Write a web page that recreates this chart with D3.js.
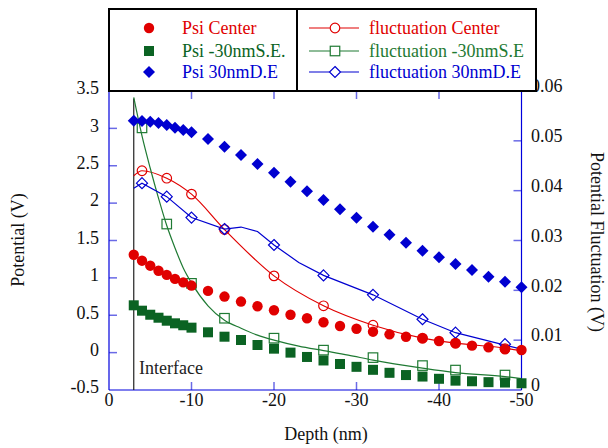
<!DOCTYPE html>
<html>
<head>
<meta charset="utf-8">
<script src="https://d3js.org/d3.v7.min.js"></script>
<style>
  body { margin: 0; background: #fff; }
  svg { display: block; }
  svg text { font-family: "Liberation Serif", "Times New Roman", Times, "DejaVu Serif", serif; }
</style>
</head>
<body>
<svg id="chart"></svg>
<script>
// Psi series (left axis) - one value per depth
var psiDepth = [-3, -4, -5, -6, -7, -8, -9, -10, -12, -14, -16, -18, -20, -22, -24, -26, -28, -30,
                -32, -34, -36, -38, -40, -42, -44, -46, -48, -50];
var psiCenter = [1.31, 1.23, 1.163, 1.096, 1.04, 0.986, 0.94, 0.897, 0.826, 0.75, 0.683, 0.62, 0.567,
                 0.507, 0.46, 0.407, 0.356, 0.32, 0.28, 0.245, 0.213, 0.19, 0.155, 0.125, 0.093, 0.071, 0.044, 0.035];
var psiSE = [0.633, 0.561, 0.507, 0.467, 0.427, 0.392, 0.366, 0.334, 0.272, 0.213, 0.169, 0.102, 0.053,
             0.0, -0.058, -0.105, -0.152, -0.19, -0.23, -0.27, -0.30, -0.32, -0.35, -0.375, -0.383, -0.395, -0.40, -0.41];
var psiDE = [3.103, 3.099, 3.09, 3.072, 3.045, 3.009, 2.978, 2.947, 2.858, 2.755, 2.644, 2.523, 2.407,
             2.287, 2.158, 2.042, 1.917, 1.805, 1.685, 1.578, 1.47, 1.363, 1.275, 1.186, 1.105, 1.016, 0.949, 0.874];

// fluctuation markers (right axis)
var flDepth = [-4, -7, -10, -14, -20, -26, -32, -38, -42, -48];
var flCenter = [0.044, 0.0425, 0.0393, 0.0322, 0.0229, 0.0169, 0.013, 0.0104, 0.0094, 0.0083];
var flSE = [0.0526, 0.0333, 0.0214, 0.0144, 0.0104, 0.008, 0.0065, 0.0049, 0.004, 0.003];
var flDE = [0.0415, 0.0388, 0.0346, 0.0323, 0.0291, 0.023, 0.0191, 0.0142, 0.0115, 0.0092];

// fluctuation curves
var lnCenterDepth = [-3, -4, -7, -10, -14, -20, -26, -32, -38, -42, -48, -50];
var lnCenter = [0.043, 0.044, 0.0425, 0.0393, 0.0322, 0.0229, 0.0169, 0.013, 0.0104, 0.0094, 0.0084, 0.0079];
var lnSEDepth = [-3, -4, -5, -6, -7, -8, -9, -10, -12, -14, -16, -18, -20, -23, -26, -29, -32, -38, -42, -48, -50];
var lnSE = [0.0587, 0.051, 0.0445, 0.0385, 0.033, 0.0285, 0.0245, 0.0215, 0.0169, 0.014, 0.0124, 0.011, 0.010,
            0.0088, 0.0079, 0.007, 0.006, 0.0044, 0.0035, 0.0027, 0.0023];
var lnDEDepth = [-3, -4, -7, -10, -14, -16, -18, -20, -23, -26, -32, -38, -42, -48, -50];
var lnDE = [0.0405, 0.0415, 0.0388, 0.0346, 0.0323, 0.0327, 0.0318, 0.0291, 0.0256, 0.023, 0.0191, 0.0142,
            0.0115, 0.009, 0.0082];

var xTicks = [0, -10, -20, -30, -40, -50];
var yLeftTicks = [-0.5, 0, 0.5, 1, 1.5, 2, 2.5, 3, 3.5];
var yRightTicks = [0, 0.01, 0.02, 0.03, 0.04, 0.05, 0.06];
var interfaceDepth = -3;

var width = 608, height = 448;
var red = "#e00000", green = "#0b6323", blue = "#0000d0";
var axisColor = "#0000dd", tickColor = "#6a6ae6";
var serif = '"Liberation Serif", "Times New Roman", Times, "DejaVu Serif", serif';

var svg = d3.select("#chart").attr("width", width).attr("height", height)
  .attr("font-family", serif);
svg.append("rect").attr("width", width).attr("height", height).attr("fill", "#fff");

var x = d3.scaleLinear().domain([0, -50]).range([109, 521.5]);
var yL = d3.scaleLinear().domain([-0.5, 3.5]).range([390, 91]);
var yR = d3.scaleLinear().domain([0, 0.06]).range([390, 91]);

var fmt = function (v) { return String(+v.toFixed(3)); };

// ticks
var tk = svg.append("g").attr("stroke", tickColor).attr("stroke-width", 1.5);
xTicks.slice(1, -1).forEach(function (t) {
  tk.append("line").attr("x1", x(t)).attr("x2", x(t)).attr("y1", 390).attr("y2", 382);
  tk.append("line").attr("x1", x(t)).attr("x2", x(t)).attr("y1", 91).attr("y2", 99);
});
yLeftTicks.slice(1, -1).forEach(function (t) {
  tk.append("line").attr("x1", 109).attr("x2", 117).attr("y1", yL(t)).attr("y2", yL(t));
});
yRightTicks.slice(1, -1).forEach(function (t) {
  tk.append("line").attr("x1", 521.5).attr("x2", 513.5).attr("y1", yR(t)).attr("y2", yR(t));
});

// axis frame
var ax = svg.append("g").attr("stroke", axisColor).attr("stroke-width", 1.2).attr("fill", "none");
ax.append("line").attr("x1", 109).attr("x2", 109).attr("y1", 91).attr("y2", 390);
ax.append("line").attr("x1", 521.5).attr("x2", 521.5).attr("y1", 91).attr("y2", 390);
ax.append("line").attr("x1", 109).attr("x2", 521.5).attr("y1", 390).attr("y2", 390);

// tick labels
var lab = svg.append("g").attr("font-size", 18).attr("fill", "#111");
xTicks.forEach(function (t) {
  lab.append("text").attr("x", x(t)).attr("y", 406).attr("text-anchor", "middle").text(fmt(t));
});
yLeftTicks.forEach(function (t) {
  lab.append("text").attr("x", 99).attr("y", yL(t) - 3).attr("dy", "0.35em")
    .attr("text-anchor", "end").text(fmt(t));
});
yRightTicks.forEach(function (t) {
  lab.append("text").attr("x", 531).attr("y", yR(t) - 5).attr("dy", "0.35em").text(fmt(t));
});

// axis titles
lab.append("text").attr("x", 326).attr("y", 440).attr("text-anchor", "middle").text("Depth (nm)");
lab.append("text").attr("transform", "translate(24,240) rotate(-90)")
  .attr("text-anchor", "middle").text("Potential (V)");
lab.append("text").attr("transform", "translate(591,242) rotate(90)")
  .attr("text-anchor", "middle").text("Potential Fluctuation (V)");

// interface line
svg.append("line").attr("x1", x(interfaceDepth)).attr("x2", x(interfaceDepth))
  .attr("y1", yL(3.4)).attr("y2", 390).attr("stroke", "#222").attr("stroke-width", 1.2);
svg.append("text").attr("x", 139).attr("y", 374).attr("font-size", 18).attr("fill", "#222").text("Interface");

// fluctuation curves
function drawCurve(depths, vals, color, curve) {
  var line = d3.line().curve(curve);
  svg.append("path")
    .attr("d", line(depths.map(function (d, i) { return [x(d), yR(vals[i])]; })))
    .attr("fill", "none").attr("stroke", color).attr("stroke-width", 1.2);
}
drawCurve(lnCenterDepth, lnCenter, red, d3.curveMonotoneX);
drawCurve(lnSEDepth, lnSE, "#1f7a33", d3.curveMonotoneX);
drawCurve(lnDEDepth, lnDE, blue, d3.curveLinear);

// marker shapes
function marker(g, kind, cx, cy, color, filled) {
  var m;
  if (kind === "circle") {
    m = g.append("circle").attr("cx", cx).attr("cy", cy).attr("r", filled ? 5.2 : 4.8);
  } else if (kind === "square") {
    var s = filled ? 10 : 9.5;
    m = g.append("rect").attr("x", cx - s / 2).attr("y", cy - s / 2).attr("width", s).attr("height", s);
  } else {
    var r = filled ? 6 : 5.5;
    m = g.append("path").attr("d", "M" + cx + "," + (cy - r) + "L" + (cx + r) + "," + cy +
      "L" + cx + "," + (cy + r) + "L" + (cx - r) + "," + cy + "Z");
  }
  if (filled) m.attr("fill", color).attr("stroke", "none");
  else m.attr("fill", "none").attr("stroke", color).attr("stroke-width", 1.2);
}

var openG = svg.append("g");
flDepth.forEach(function (d, i) {
  marker(openG, "circle", x(d), yR(flCenter[i]), red, false);
  marker(openG, "square", x(d), yR(flSE[i]), "#1f7a33", false);
  marker(openG, "diamond", x(d), yR(flDE[i]), blue, false);
});

var fillG = svg.append("g");
psiDepth.forEach(function (d, i) {
  marker(fillG, "circle", x(d), yL(psiCenter[i]), red, true);
  marker(fillG, "square", x(d), yL(psiSE[i]), green, true);
  marker(fillG, "diamond", x(d), yL(psiDE[i]), blue, true);
});

// legend box
var lg = svg.append("g");
lg.append("rect").attr("x", 109).attr("y", 9).attr("width", 427).attr("height", 82)
  .attr("fill", "#fff").attr("stroke", "#000").attr("stroke-width", 2);
lg.append("line").attr("x1", 297).attr("x2", 297).attr("y1", 9).attr("y2", 91)
  .attr("stroke", "#000").attr("stroke-width", 2);

var legLeft = [
  { name: "Psi Center", kind: "circle", color: red },
  { name: "Psi -30nmS.E.", kind: "square", color: green },
  { name: "Psi 30nmD.E", kind: "diamond", color: blue }
];
var legRight = [
  { name: "fluctuation Center", kind: "circle", color: red },
  { name: "fluctuation -30nmS.E", kind: "square", color: "#1f7a33" },
  { name: "fluctuation 30nmD.E", kind: "diamond", color: blue }
];
var rowY = [28, 51, 72];
legLeft.forEach(function (e, i) {
  marker(lg, e.kind, 149, rowY[i], e.color, true);
  lg.append("text").attr("x", 182).attr("y", rowY[i]).attr("dy", "0.35em")
    .attr("font-size", 18).attr("fill", e.color).text(e.name);
});
legRight.forEach(function (e, i) {
  lg.append("line").attr("x1", 309).attr("x2", 359).attr("y1", rowY[i]).attr("y2", rowY[i])
    .attr("stroke", e.color).attr("stroke-width", 1.2);
  marker(lg, e.kind, 335, rowY[i], "#fff", true);
  marker(lg, e.kind, 335, rowY[i], e.color, false);
  lg.append("text").attr("x", 369).attr("y", rowY[i]).attr("dy", "0.35em")
    .attr("font-size", 18).attr("fill", e.color).text(e.name);
});
</script>
</body>
</html>
